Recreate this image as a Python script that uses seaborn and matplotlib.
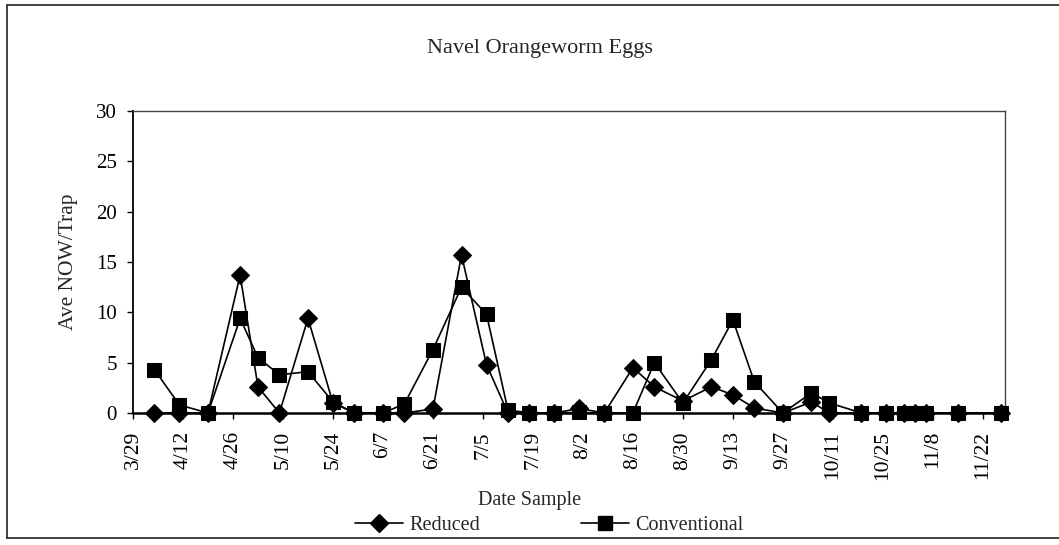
import matplotlib
matplotlib.use("Agg")
import matplotlib.pyplot as plt
from matplotlib.lines import Line2D
import numpy as np
import pandas as pd
import seaborn as sns

# ---------------- data ----------------
YEAR = 2001
sample_dates = ["4/4", "4/11", "4/19", "4/28", "5/3", "5/9", "5/17", "5/24", "5/30",
                "6/7", "6/13", "6/21", "6/29", "7/6", "7/12", "7/18", "7/25", "8/1",
                "8/8", "8/16", "8/22", "8/30", "9/7", "9/13", "9/19", "9/27", "10/5",
                "10/10", "10/19", "10/26", "10/31", "11/3", "11/6", "11/15", "11/27"]
reduced = [0, 0, 0, 13.7, 2.6, 0, 9.4, 1.0, 0,
           0, 0, 0.4, 15.7, 4.8, 0, 0, 0, 0.45,
           0, 4.5, 2.6, 1.2, 2.6, 1.8, 0.5, 0, 1.1,
           0, 0, 0, 0, 0, 0, 0, 0]
conventional = [4.3, 0.8, 0, 9.4, 5.5, 3.8, 4.1, 1.1, 0,
                0, 0.9, 6.3, 12.5, 9.8, 0.3, 0, 0, 0.05,
                0, 0, 5.0, 1.0, 5.3, 9.25, 3.1, 0, 2.0,
                1.0, 0, 0, 0, 0, 0, 0, 0]
tick_labels = ["3/29", "4/12", "4/26", "5/10", "5/24", "6/7", "6/21", "7/5", "7/19",
               "8/2", "8/16", "8/30", "9/13", "9/27", "10/11", "10/25", "11/8", "11/22"]
y_ticks = [0, 5, 10, 15, 20, 25, 30]
series_names = ["Reduced", "Conventional"]


def to_date(s):
    return pd.Timestamp(f"{YEAR}/{s}")


dates = [to_date(s) for s in sample_dates]
df = pd.DataFrame({
    "date": dates * 2,
    "value": reduced + conventional,
    "series": [series_names[0]] * len(dates) + [series_names[1]] * len(dates),
})

# ---------------- style ----------------
sns.set_style("ticks")
plt.rcParams["font.family"] = ["Liberation Serif", "DejaVu Serif"]
plt.rcParams["axes.unicode_minus"] = False

W, H = 1059, 545
fig = plt.figure(figsize=(W / 100, H / 100), dpi=100)
ax = fig.add_axes([133 / W, 1 - 413 / H, (1005 - 133) / W, (413 - 111) / H])

sns.lineplot(data=df, x="date", y="value", hue="series", style="series",
             markers={"Reduced": "D", "Conventional": "s"},
             dashes=False, palette={"Reduced": "black", "Conventional": "black"},
             markersize=9.5, linewidth=1.2, markeredgecolor="black",
             errorbar=None, sort=True, legend=False, ax=ax)
for ln in ax.lines:
    ln.set_clip_on(False)
    ln.set_zorder(5)

# ---------------- axes ----------------
start = to_date(tick_labels[0])
ax.set_xlim(start, start + pd.Timedelta(days=244.2))
ax.set_ylim(0, 30)
ax.set_xticks([to_date(t) for t in tick_labels])
ax.set_xticklabels(tick_labels, rotation=90, fontsize=15.5)
ax.set_yticks(y_ticks)
ax.set_yticklabels([str(v) for v in y_ticks], fontsize=15)
ax.tick_params(axis="x", direction="out", length=4.5, width=1, pad=8.5, colors="black")
ax.tick_params(axis="y", direction="out", length=4.5, width=1, pad=7, colors="black")
ax.set_xlabel("")
ax.set_ylabel("")

for side in ["left", "bottom"]:
    ax.spines[side].set_visible(True)
    ax.spines[side].set_color("black")
ax.spines["left"].set_linewidth(1.3)
ax.spines["bottom"].set_linewidth(1.8)
for side in ["top", "right"]:
    ax.spines[side].set_visible(True)
    ax.spines[side].set_color("#444444")
    ax.spines[side].set_linewidth(1.0)

# ---------------- texts ----------------
fig.text(540 / W, 1 - 48 / H, "Navel Orangeworm Eggs", ha="center", va="center",
         fontsize=16)
fig.text(69 / W, 1 - 262 / H, "Ave NOW/Trap", ha="center", va="center",
         rotation=90, fontsize=15.5)
fig.text(530 / W, 1 - 500 / H, "Date Sample", ha="center", va="center",
         fontsize=14.5)

# legend
handles = [
    Line2D([], [], color="black", lw=1.2, marker="D", markersize=9.5),
    Line2D([], [], color="black", lw=1.2, marker="s", markersize=9.5),
]
fig.legend(handles, series_names, loc="center left",
           bbox_to_anchor=(355 / W, 1 - 525 / H), ncol=2, frameon=False,
           fontsize=14.5, handlelength=2.4, handletextpad=0.3,
           columnspacing=5.0, borderpad=0, borderaxespad=0)

# outer frame (left, top, bottom)
frame_kw = dict(color="#222222", lw=1.2, transform=fig.transFigure)
fig.add_artist(Line2D([7 / W, 7 / W], [1 - 5 / H, 1 - 538 / H], **frame_kw))
fig.add_artist(Line2D([7 / W, 1.0], [1 - 5 / H, 1 - 5 / H], **frame_kw))
fig.add_artist(Line2D([7 / W, 1.0], [1 - 538 / H, 1 - 538 / H], **frame_kw))

fig.savefig("out.png", dpi=100, facecolor="white")
